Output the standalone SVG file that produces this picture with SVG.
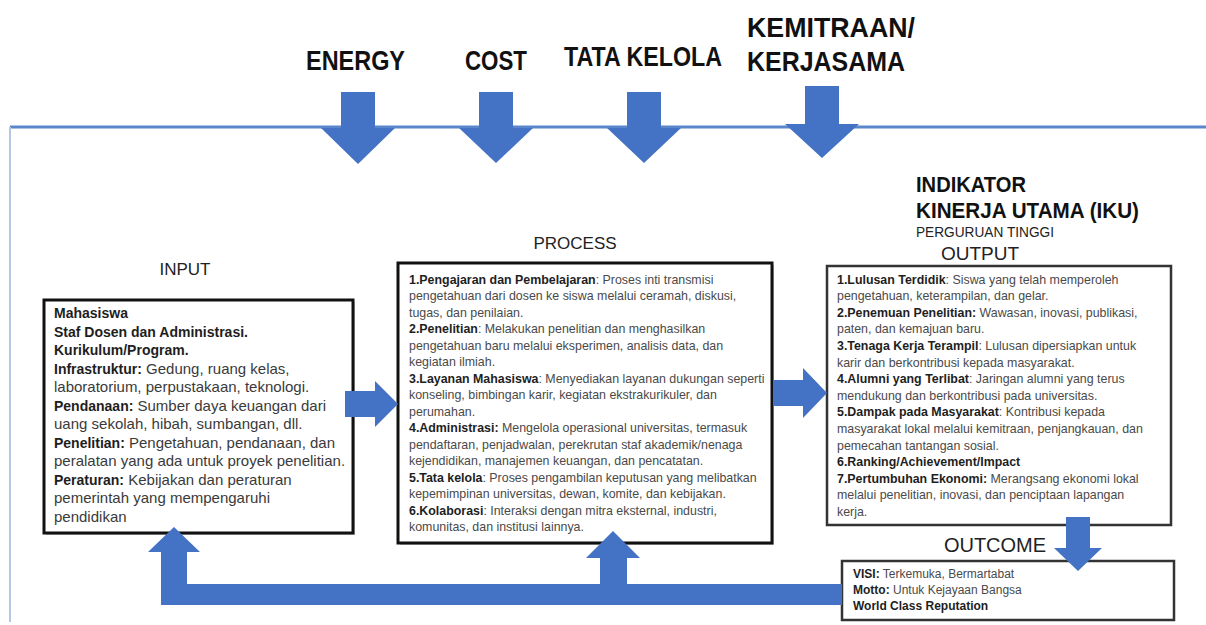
<svg xmlns="http://www.w3.org/2000/svg" width="1206" height="625" viewBox="0 0 1206 625">
<style>
.arrow{fill:#4472C4;}
.box{fill:#ffffff;stroke:#111111;stroke-width:3;}
.box2{fill:#ffffff;stroke:#333333;stroke-width:2.5;}
.shadow{fill:#c8c8c8;}
text{font-family:"Liberation Sans",Arial,sans-serif;}
.hd{font-weight:bold;fill:#111111;}
.lbl{fill:#222222;}
.p{font-size:12.4px;fill:#4a4a4a;}
.in{font-size:15px;fill:#3a3a3a;}
.o{font-size:12px;fill:#4a4a4a;}
.b{font-weight:bold;fill:#1e1e1e;}
</style>
<rect x="0" y="0" width="1206" height="625" fill="#ffffff"/>
<g id="frame">
<line x1="10" y1="127" x2="1206" y2="127" stroke="#5a86cc" stroke-width="3"/>
<line x1="10" y1="127" x2="10" y2="622" stroke="#b4c7e7" stroke-width="2"/>
</g>
<g id="label-energy"><text class="hd" x="306" y="70" font-size="28" textLength="99" lengthAdjust="spacingAndGlyphs">ENERGY</text></g>
<g id="label-cost"><text class="hd" x="465" y="70" font-size="28" textLength="62" lengthAdjust="spacingAndGlyphs">COST</text></g>
<g id="label-tata-kelola"><text class="hd" x="564" y="66" font-size="28" textLength="158" lengthAdjust="spacingAndGlyphs">TATA KELOLA</text></g>
<g id="label-kemitraan">
<text class="hd" x="747" y="37" font-size="28" textLength="168" lengthAdjust="spacingAndGlyphs">KEMITRAAN/</text>
<text class="hd" x="747" y="71" font-size="28" textLength="158" lengthAdjust="spacingAndGlyphs">KERJASAMA</text>
</g>
<g id="input">
<text class="lbl" x="185" y="275" font-size="17" text-anchor="middle">INPUT</text>
<rect class="shadow" x="46" y="302" width="309" height="233"/>
<rect class="box" x="44" y="300" width="309" height="233"/>
<text class="in" x="54" y="318"><tspan class="b" font-size="14">Mahasiswa</tspan></text>
<text class="in" x="54" y="336.5"><tspan class="b" font-size="14">Staf Dosen dan Administrasi.</tspan></text>
<text class="in" x="54" y="355"><tspan class="b" font-size="14">Kurikulum/Program.</tspan></text>
<text class="in" x="54" y="373.5"><tspan class="b" font-size="14">Infrastruktur:</tspan> Gedung, ruang kelas,</text>
<text class="in" x="54" y="392">laboratorium, perpustakaan, teknologi.</text>
<text class="in" x="54" y="410.5"><tspan class="b" font-size="14">Pendanaan:</tspan> Sumber daya keuangan dari</text>
<text class="in" x="54" y="429">uang sekolah, hibah, sumbangan, dll.</text>
<text class="in" x="54" y="447.5"><tspan class="b" font-size="14">Penelitian:</tspan> Pengetahuan, pendanaan, dan</text>
<text class="in" x="54" y="466">peralatan yang ada untuk proyek penelitian.</text>
<text class="in" x="54" y="484.5"><tspan class="b" font-size="14">Peraturan:</tspan> Kebijakan dan peraturan</text>
<text class="in" x="54" y="503">pemerintah yang mempengaruhi</text>
<text class="in" x="54" y="521.5">pendidikan</text>
</g>
<g id="process">
<text class="lbl" x="575" y="249" font-size="17" text-anchor="middle">PROCESS</text>
<rect class="shadow" x="400" y="265" width="374" height="280"/>
<rect class="box" x="398" y="263" width="374" height="280"/>
<text class="p" x="409" y="283.5"><tspan class="b">1.Pengajaran dan Pembelajaran</tspan>: Proses inti transmisi</text>
<text class="p" x="409" y="300">pengetahuan dari dosen ke siswa melalui ceramah, diskusi,</text>
<text class="p" x="409" y="316.5">tugas, dan penilaian.</text>
<text class="p" x="409" y="333"><tspan class="b">2.Penelitian</tspan>: Melakukan penelitian  dan menghasilkan</text>
<text class="p" x="409" y="349.5">pengetahuan baru melalui eksperimen, analisis data, dan</text>
<text class="p" x="409" y="366">kegiatan ilmiah.</text>
<text class="p" x="409" y="382.5"><tspan class="b">3.Layanan Mahasiswa</tspan>: Menyediakan layanan dukungan seperti</text>
<text class="p" x="409" y="399">konseling, bimbingan karir, kegiatan ekstrakurikuler, dan</text>
<text class="p" x="409" y="415.5">perumahan.</text>
<text class="p" x="409" y="432"><tspan class="b">4.Administrasi:</tspan> Mengelola operasional universitas, termasuk</text>
<text class="p" x="409" y="448.5">pendaftaran, penjadwalan, perekrutan staf akademik/nenaga</text>
<text class="p" x="409" y="465">kejendidikan, manajemen keuangan, dan pencatatan.</text>
<text class="p" x="409" y="481.5"><tspan class="b">5.Tata kelola</tspan>: Proses pengambilan keputusan yang melibatkan</text>
<text class="p" x="409" y="498">kepemimpinan universitas, dewan, komite, dan kebijakan.</text>
<text class="p" x="409" y="514.5"><tspan class="b">6.Kolaborasi</tspan>: Interaksi dengan mitra eksternal, industri,</text>
<text class="p" x="409" y="531">komunitas, dan institusi lainnya.</text>
</g>
<g id="output">
<text class="hd" x="916" y="192" font-size="22" textLength="110" lengthAdjust="spacingAndGlyphs">INDIKATOR</text>
<text class="hd" x="916" y="218" font-size="22" textLength="223" lengthAdjust="spacingAndGlyphs">KINERJA UTAMA (IKU)</text>
<text class="lbl" x="916" y="237" font-size="15" textLength="138" lengthAdjust="spacingAndGlyphs">PERGURUAN TINGGI</text>
<text class="lbl" x="980" y="260" font-size="19" text-anchor="middle">OUTPUT</text>
<rect class="box2" x="827" y="266" width="344" height="259"/>
<text class="p" x="837" y="283.5"><tspan class="b">1.Lulusan Terdidik</tspan>: Siswa yang telah memperoleh</text>
<text class="p" x="837" y="300.1">pengetahuan, keterampilan, dan gelar.</text>
<text class="p" x="837" y="316.7"><tspan class="b">2.Penemuan Penelitian:</tspan> Wawasan, inovasi, publikasi,</text>
<text class="p" x="837" y="333.3">paten, dan kemajuan baru.</text>
<text class="p" x="837" y="349.9"><tspan class="b">3.Tenaga Kerja Terampil</tspan>: Lulusan dipersiapkan untuk</text>
<text class="p" x="837" y="366.5">karir dan berkontribusi kepada masyarakat.</text>
<text class="p" x="837" y="383.1"><tspan class="b">4.Alumni yang Terlibat</tspan>: Jaringan alumni yang terus</text>
<text class="p" x="837" y="399.7">mendukung dan berkontribusi pada universitas.</text>
<text class="p" x="837" y="416.3"><tspan class="b">5.Dampak pada Masyarakat</tspan>: Kontribusi kepada</text>
<text class="p" x="837" y="432.9">masyarakat lokal melalui kemitraan, penjangkauan, dan</text>
<text class="p" x="837" y="449.5">pemecahan tantangan sosial.</text>
<text class="p" x="837" y="466.1"><tspan class="b">6.Ranking/Achievement/Impact</tspan></text>
<text class="p" x="837" y="482.7"><tspan class="b">7.Pertumbuhan Ekonomi:</tspan> Merangsang ekonomi lokal</text>
<text class="p" x="837" y="499.3">melalui penelitian, inovasi, dan penciptaan lapangan</text>
<text class="p" x="837" y="515.9">kerja.</text>
</g>
<g id="outcome">
<text class="lbl" x="995" y="552" font-size="20" text-anchor="middle">OUTCOME</text>
<rect class="box2" x="842" y="561" width="332" height="59" stroke-width="2"/>
<text class="o" x="853" y="578"><tspan class="b">VISI:</tspan> Terkemuka,  Bermartabat</text>
<text class="o" x="853" y="594"><tspan class="b">Motto:</tspan> Untuk Kejayaan Bangsa</text>
<text class="o" x="853" y="610"><tspan class="b">World Class Reputation</tspan></text>
</g>
<g id="connectors">
<polygon class="arrow" points="341,92 375,92 375,128 395,128 358,164 321,128 341,128"/>
<polygon class="arrow" points="479,92 513,92 513,128 533,128 496,163 459,128 479,128"/>
<polygon class="arrow" points="627,92 661,92 661,128 681,128 644,163 607,128 627,128"/>
<polygon class="arrow" points="805,86 839,86 839,124 859,124 822,158 785,124 805,124"/>
<polygon class="arrow" points="345,391 375,391 375,381 398,404 375,427 375,417 345,417"/>
<polygon class="arrow" points="773,380 803,380 803,368 827,393 803,418 803,406 773,406"/>
<polygon class="arrow" points="1066,517 1090,517 1090,548 1102,548 1078,571 1054,548 1066,548"/>
<polygon class="arrow" points="842,584 842,605 161,605 161,552 148,552 174,527 200,552 187,552 187,584 600,584 600,558 586,558 613,531 640,558 627,558 627,584"/>
</g>
</svg>
